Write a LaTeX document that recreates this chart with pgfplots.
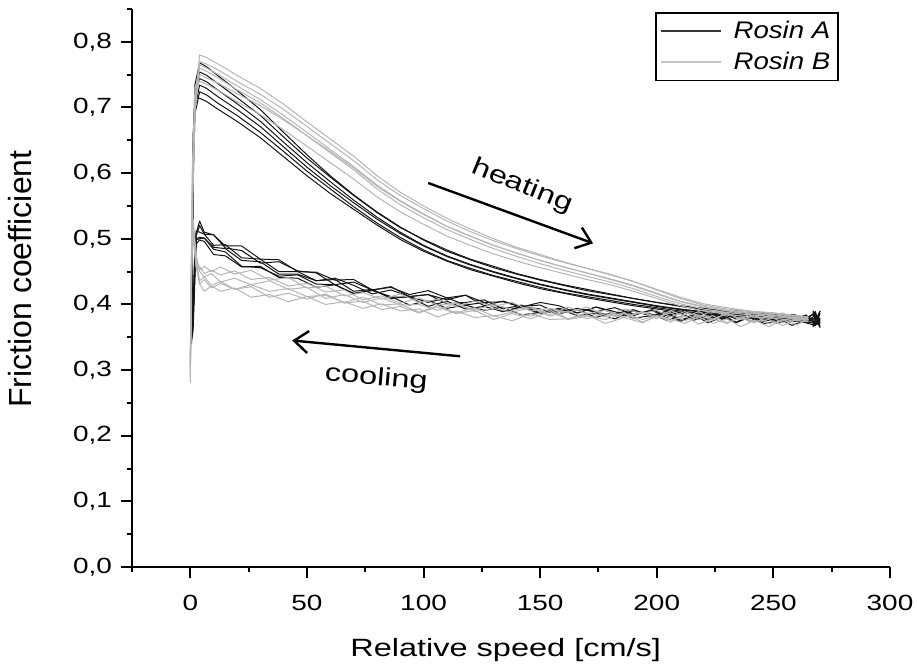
\documentclass[border=0pt]{standalone}
\usepackage{fontspec}
\setmainfont{Liberation Sans}
\usepackage{pgfplots}
\pgfplotsset{compat=1.18}
\usepackage{pgfplotstable}
\usetikzlibrary{arrows.meta}

\definecolor{rosinA}{gray}{0.08}
\definecolor{rosinB}{gray}{0.71}
\definecolor{legA}{gray}{0.2}
\definecolor{legB}{gray}{0.76}

\newcommand\tickfont{\fontsize{11}{13}\selectfont}
\newcommand\labfont{\fontsize{12.5}{15}\selectfont}
\newcommand\ylabfont{\fontsize{16}{19}\selectfont}
\newcommand\legfont{\fontsize{12}{14}\selectfont}

% Rosin A, heating branch (speed rising)
\pgfplotstableread{
x c1 c2 c3 c4 c5 c6
0.6 0.34 0.37 0.36 0.35 0.38 0.36
1.2 0.64 0.60 0.62 0.66 0.58 0.63
2 0.735 0.71 0.725 0.70 0.69 0.715
4 0.768 0.754 0.744 0.734 0.724 0.714
7 0.762 0.749 0.739 0.729 0.719 0.709
12 0.748 0.736 0.726 0.716 0.706 0.697
20 0.726 0.715 0.706 0.697 0.688 0.679
30 0.697 0.688 0.679 0.671 0.662 0.654
40 0.662 0.655 0.647 0.640 0.633 0.625
50 0.628 0.623 0.616 0.609 0.603 0.596
60 0.596 0.594 0.587 0.581 0.576 0.569
70 0.567 0.566 0.559 0.555 0.549 0.545
80 0.541 0.540 0.533 0.530 0.524 0.521
90 0.518 0.517 0.510 0.508 0.502 0.499
100 0.498 0.499 0.490 0.489 0.483 0.481
110 0.481 0.483 0.474 0.473 0.467 0.466
120 0.468 0.469 0.461 0.460 0.455 0.453
130 0.456 0.458 0.450 0.449 0.444 0.443
140 0.446 0.447 0.440 0.439 0.435 0.433
150 0.437 0.438 0.431 0.430 0.426 0.424
160 0.429 0.430 0.423 0.422 0.418 0.417
170 0.421 0.423 0.416 0.415 0.412 0.410
180 0.415 0.416 0.410 0.409 0.406 0.404
190 0.409 0.409 0.404 0.403 0.400 0.398
200 0.403 0.403 0.398 0.397 0.395 0.393
210 0.397 0.398 0.393 0.392 0.390 0.388
220 0.392 0.394 0.389 0.388 0.386 0.385
230 0.389 0.390 0.386 0.385 0.383 0.382
240 0.385 0.387 0.383 0.382 0.380 0.379
250 0.382 0.384 0.380 0.379 0.377 0.376
260 0.380 0.381 0.378 0.377 0.375 0.374
270 0.377 0.378 0.376 0.374 0.372 0.371
}\heatA

% Rosin A, cooling branch (speed falling)
\pgfplotstableread{
x c1 c2 c3 c4 c5 c6
270 0.377 0.378 0.376 0.374 0.372 0.371
267 0.366 0.388 0.370 0.384 0.390 0.368
270 0.389 0.367 0.386 0.365 0.372 0.390
268 0.370 0.384 0.368 0.389 0.386 0.372
264 0.384 0.372 0.372 0.376 0.380 0.383
258 0.376 0.382 0.381 0.368 0.385 0.377
252 0.381 0.371 0.386 0.379 0.376 0.374
246 0.387 0.379 0.376 0.374 0.388 0.371
240 0.374 0.381 0.380 0.382 0.381 0.381
234 0.385 0.372 0.386 0.373 0.391 0.378
228 0.381 0.386 0.377 0.381 0.378 0.386
222 0.390 0.378 0.384 0.372 0.386 0.376
216 0.379 0.383 0.376 0.384 0.383 0.383
210 0.387 0.374 0.388 0.381 0.393 0.376
204 0.380 0.387 0.383 0.376 0.384 0.390
198 0.391 0.383 0.392 0.385 0.382 0.382
190 0.385 0.379 0.383 0.390 0.392 0.390
182 0.395 0.389 0.389 0.378 0.386 0.383
174 0.389 0.380 0.396 0.387 0.396 0.388
166 0.394 0.392 0.387 0.383 0.387 0.394
158 0.386 0.390 0.394 0.393 0.398 0.385
150 0.399 0.386 0.387 0.388 0.403 0.393
142 0.397 0.396 0.399 0.384 0.396 0.397
134 0.405 0.389 0.393 0.396 0.404 0.389
126 0.398 0.397 0.407 0.391 0.403 0.403
118 0.414 0.393 0.403 0.399 0.414 0.399
110 0.407 0.405 0.401 0.394 0.410 0.410
102 0.415 0.397 0.415 0.406 0.421 0.403
94 0.412 0.411 0.412 0.399 0.415 0.412
86 0.427 0.411 0.422 0.412 0.426 0.409
78 0.422 0.422 0.416 0.421 0.422 0.423
70 0.434 0.416 0.429 0.417 0.438 0.420
62 0.430 0.430 0.440 0.430 0.437 0.438
54 0.448 0.431 0.436 0.426 0.449 0.436
46 0.451 0.445 0.450 0.440 0.450 0.446
38 0.465 0.443 0.450 0.441 0.468 0.446
30 0.463 0.456 0.469 0.458 0.469 0.465
22 0.482 0.458 0.471 0.457 0.489 0.467
15 0.486 0.480 0.491 0.474 0.489 0.485
10 0.506 0.484 0.490 0.476 0.506 0.487
6 0.507 0.501 0.507 0.496 0.510 0.501
4 0.520 0.500 0.510 0.498 0.527 0.502
2.5 0.505 0.498 0.512 0.492 0.508 0.500
1.8 0.450 0.430 0.470 0.420 0.460 0.440
1.2 0.390 0.370 0.400 0.360 0.380 0.385
0.6 0.360 0.350 0.365 0.345 0.355 0.362
}\coolA

% Rosin B, heating branch
\pgfplotstableread{
x c1 c2 c3 c4 c5 c6
0 0.29 0.31 0.30 0.32 0.28 0.30
0.8 0.56 0.52 0.58 0.54 0.60 0.55
2 0.71 0.69 0.72 0.70 0.73 0.70
4 0.780 0.770 0.760 0.750 0.740 0.765
7 0.776 0.766 0.755 0.745 0.735 0.760
12 0.766 0.757 0.745 0.737 0.726 0.750
20 0.749 0.740 0.727 0.721 0.709 0.733
30 0.729 0.720 0.707 0.703 0.689 0.712
40 0.705 0.697 0.683 0.681 0.666 0.688
50 0.678 0.671 0.657 0.657 0.641 0.662
60 0.652 0.645 0.631 0.633 0.616 0.636
70 0.626 0.619 0.605 0.608 0.591 0.610
80 0.596 0.590 0.576 0.580 0.564 0.582
90 0.571 0.566 0.552 0.557 0.541 0.558
100 0.550 0.546 0.532 0.537 0.522 0.538
110 0.531 0.527 0.514 0.519 0.504 0.519
120 0.515 0.511 0.499 0.504 0.490 0.504
130 0.500 0.497 0.485 0.490 0.477 0.490
140 0.487 0.485 0.473 0.478 0.466 0.478
150 0.476 0.474 0.462 0.467 0.456 0.467
160 0.465 0.464 0.452 0.457 0.447 0.457
170 0.455 0.455 0.443 0.448 0.438 0.448
180 0.446 0.445 0.434 0.439 0.430 0.438
190 0.435 0.435 0.424 0.429 0.420 0.428
200 0.423 0.422 0.412 0.417 0.409 0.416
210 0.411 0.409 0.401 0.405 0.398 0.404
220 0.401 0.399 0.393 0.397 0.390 0.396
230 0.395 0.393 0.388 0.391 0.385 0.390
240 0.390 0.389 0.384 0.387 0.381 0.386
250 0.387 0.386 0.381 0.384 0.379 0.383
258 0.384 0.383 0.379 0.381 0.376 0.380
265 0.381 0.380 0.376 0.378 0.374 0.377
}\heatB

% Rosin B, cooling branch
\pgfplotstableread{
x c1 c2 c3 c4 c5 c6
265 0.381 0.380 0.376 0.378 0.374 0.377
260 0.375 0.377 0.383 0.369 0.375 0.378
254 0.387 0.368 0.375 0.377 0.385 0.372
248 0.379 0.377 0.371 0.366 0.388 0.383
242 0.389 0.374 0.383 0.376 0.380 0.372
236 0.378 0.381 0.377 0.366 0.391 0.379
230 0.386 0.371 0.387 0.378 0.382 0.372
224 0.377 0.378 0.376 0.371 0.391 0.383
218 0.389 0.370 0.384 0.381 0.381 0.377
212 0.381 0.382 0.375 0.371 0.389 0.385
206 0.391 0.376 0.387 0.378 0.381 0.373
200 0.378 0.382 0.381 0.383 0.391 0.383
194 0.388 0.373 0.389 0.372 0.386 0.377
186 0.381 0.386 0.380 0.380 0.393 0.387
178 0.391 0.377 0.386 0.371 0.383 0.381
170 0.386 0.382 0.378 0.384 0.396 0.387
162 0.396 0.377 0.390 0.378 0.388 0.378
154 0.384 0.389 0.382 0.377 0.394 0.392
146 0.397 0.378 0.395 0.386 0.390 0.382
138 0.391 0.386 0.388 0.375 0.403 0.388
130 0.401 0.377 0.394 0.383 0.397 0.382
122 0.391 0.391 0.389 0.380 0.405 0.395
114 0.402 0.386 0.402 0.390 0.397 0.387
106 0.399 0.396 0.391 0.381 0.408 0.398
98 0.410 0.387 0.400 0.393 0.403 0.388
90 0.402 0.397 0.399 0.390 0.416 0.401
82 0.413 0.392 0.410 0.401 0.408 0.399
74 0.407 0.405 0.403 0.394 0.418 0.411
66 0.422 0.402 0.415 0.404 0.413 0.403
58 0.419 0.416 0.409 0.400 0.428 0.414
50 0.432 0.408 0.426 0.412 0.425 0.412
42 0.428 0.417 0.423 0.404 0.441 0.424
34 0.441 0.411 0.436 0.415 0.437 0.420
26 0.438 0.427 0.430 0.411 0.452 0.430
19 0.451 0.423 0.440 0.425 0.446 0.423
13 0.445 0.432 0.434 0.420 0.457 0.435
9 0.452 0.425 0.447 0.428 0.450 0.429
6 0.447 0.438 0.442 0.420 0.458 0.442
4 0.458 0.431 0.450 0.431 0.452 0.436
2.5 0.455 0.462 0.470 0.458 0.475 0.466
1.8 0.480 0.490 0.500 0.485 0.505 0.495
1.2 0.505 0.515 0.525 0.500 0.530 0.510
0.6 0.470 0.500 0.460 0.490 0.450 0.480
0 0.300 0.320 0.290 0.310 0.285 0.305
}\coolB

\begin{document}
\begin{tikzpicture}
\begin{axis}[
    name=ax,
    scale only axis,
    width=379pt, height=279pt,
    xmin=-25, xmax=300,
    ymin=0, ymax=0.85,
    axis lines*=left,
    axis line style={line width=1pt},
    xtick={0,50,100,150,200,250,300},
    minor xtick={-25,25,75,125,175,225,275},
    ytick={0,0.1,0.2,0.3,0.4,0.5,0.6,0.7,0.8},
    minor ytick={0.05,0.15,0.25,0.35,0.45,0.55,0.65,0.75,0.85},
    tick align=outside,
    major tick length=5.5pt,
    minor tick length=2.5pt,
    every tick/.style={line width=1pt, black},
    /pgf/number format/assume math mode=true,
    tick label style={font=\tickfont, xscale=1.27},
    yticklabel style={/pgf/number format/.cd, fixed, fixed zerofill, precision=1, use comma},
    xticklabel style={yshift=-5pt, /pgf/number format/.cd, fixed, precision=0},
    xlabel={\scalebox{1.3}[1]{Relative speed [cm/s]}},
    xlabel style={font=\labfont, at={(axis description cs:0.493,-0.161)}, anchor=base},
    ylabel={Friction coefficient},
    ylabel style={font=\ylabfont, at={(axis description cs:-0.148,0.516)}, anchor=center},
    every axis plot/.append style={line width=0.5pt, line join=round, no markers},
    legend image code/.code={\draw[#1, line width=1pt] (0pt,0pt) -- (30pt,0pt); \path (34pt,0pt);},
    legend style={at={(rel axis cs:0.933,0.995)}, anchor=north east,
        draw=black, line width=0.9pt, font=\legfont\itshape,
        inner xsep=2pt, inner ysep=2pt, row sep=1.5pt,
        cells={anchor=west}},
]

\pgfplotsinvokeforeach{1,...,6}{
  \addplot[rosinA, forget plot] table[x=x, y=c#1] {\heatA};
  \addplot[rosinA, forget plot] table[x=x, y=c#1] {\coolA};
}
\pgfplotsinvokeforeach{1,...,6}{
  \addplot[rosinB, forget plot] table[x=x, y=c#1] {\heatB};
  \addplot[rosinB, forget plot] table[x=x, y=c#1] {\coolB};
}

\addlegendimage{legA}
\addlegendentry{\scalebox{1.15}[1]{Rosin A}}
\addlegendimage{legB}
\addlegendentry{\scalebox{1.15}[1]{Rosin B}}

% direction arrows
\draw[line width=1.2pt, -{Straight Barb[length=7pt,width=11pt]}]
    (axis cs:102,0.585) -- (axis cs:172.7,0.493);
\node[font=\labfont, rotate=-22, inner sep=0pt] at (axis cs:142.3,0.580) {\scalebox{1.3}[1]{heating}};
\draw[line width=1.2pt, -{Straight Barb[length=7pt,width=11pt]}]
    (axis cs:115.7,0.321) -- (axis cs:43.7,0.345);
\node[font=\labfont, rotate=-5, inner sep=0pt] at (axis cs:79.7,0.287) {\scalebox{1.3}[1]{cooling}};
\end{axis}
\pgfresetboundingbox
\path[use as bounding box] ([shift={(-66pt,-50.5pt)}]ax.south west)
    rectangle ([shift={(13.5pt,4.5pt)}]ax.north east);
\end{tikzpicture}
\end{document}
